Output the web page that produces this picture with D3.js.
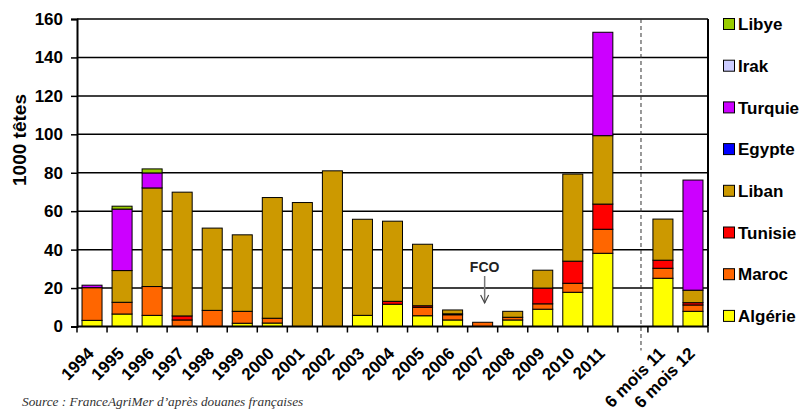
<!DOCTYPE html>
<html><head><meta charset="utf-8">
<script src="https://cdn.jsdelivr.net/npm/d3@7"></script>
<style>
body{margin:0;background:#fff;}
</style></head>
<body><svg id="c" width="806" height="412"></svg>
<script>
const categories = ["1994","1995","1996","1997","1998","1999","2000","2001","2002","2003","2004","2005","2006","2007","2008","2009","2010","2011","gap","6m11","6m12"];
const categoryLabels = ["1994","1995","1996","1997","1998","1999","2000","2001","2002","2003","2004","2005","2006","2007","2008","2009","2010","2011","","6 mois 11","6 mois 12"];
const seriesNames = ["Algérie","Maroc","Tunisie","Liban","Egypte","Turquie","Irak","Libye"];
const seriesColors = ["#FFFF00","#FF6600","#FF0000","#CC9900","#0000FF","#CC00FF","#CCCCFF","#99CC00"];
const algerie = [3.2,6.5,5.8,0,0,1.7,1.8,0,0,5.8,11.6,5.6,3.4,0,3.4,9.0,17.8,38.1,0,25.1,7.9];
const maroc   = [17,6.1,15,3.4,8.4,6.2,2.5,0,0,0,0,4.4,2.7,2.2,1.4,2.8,4.7,12.5,0,5.2,3.3];
const tunisie = [0,0,0,2.1,0,0,0,0,0,0,1.5,0.8,0.5,0,0,8.2,11.5,13.1,0,4.2,1.2];
const liban   = [0,16.5,51.3,64.4,42.8,39.8,62.8,64.5,81,50,41.7,32,2.0,0,3.1,9.3,45.3,35.6,0,21.4,6.5];
const egypte  = [0,0,0,0,0,0,0,0,0,0,0,0,0,0,0,0,0,0,0,0,0];
const turquie = [1.3,32,7.8,0,0,0,0,0,0,0,0,0,0,0,0,0,0,53.8,0,0,57.3];
const irak    = [0,0,0,0,0,0,0,0,0,0,0,0,0,0,0,0,0,0,0,0,0];
const libye   = [0,1.5,2.1,0,0,0,0,0,0,0,0,0,0,0,0,0,0,0,0,0,0];
const yTicks = [0,20,40,60,80,100,120,140,160];
const seriesValues = [algerie,maroc,tunisie,liban,egypte,turquie,irak,libye];

const SANS = "'Liberation Sans',Arial,sans-serif";
const svg = d3.select("#c");
const L=77, R=708, T=19, B=326.5;
const x = d3.scaleBand().domain(categories).range([L,R]).paddingInner(0.334).paddingOuter(0.167);
const y = d3.scaleLinear().domain([0,160]).range([B,T]);

const table = categories.map((c,i)=>{const o={cat:c}; seriesNames.forEach((s,j)=>o[s]=seriesValues[j][i]); return o;});
const stacked = d3.stack().keys(seriesNames)(table);

// gridlines
svg.append("g").selectAll("line").data(yTicks.filter(v=>v>0)).join("line")
  .attr("x1",L).attr("x2",R).attr("y1",d=>y(d)).attr("y2",d=>y(d))
  .attr("stroke","#000").attr("stroke-width",1.5);

// bars
svg.append("g").selectAll("g").data(stacked).join("g")
  .attr("fill",(d,i)=>seriesColors[i])
  .selectAll("rect").data(d=>d.filter(e=>e[1]-e[0]>0)).join("rect")
  .attr("x",d=>x(d.data.cat)).attr("width",x.bandwidth())
  .attr("y",d=>y(d[1])).attr("height",d=>y(d[0])-y(d[1]))
  .attr("stroke","#000").attr("stroke-width",1);

// dashed separator
const gapX = x("gap") + x.bandwidth()/2 + x.step()*0.27;
svg.append("line").attr("x1",gapX).attr("x2",gapX).attr("y1",T).attr("y2",B+24)
  .attr("stroke","#333").attr("stroke-width",1).attr("stroke-dasharray","4,3");

// frame
svg.append("line").attr("x1",R).attr("x2",R).attr("y1",T).attr("y2",B).attr("stroke","#000").attr("stroke-width",2);

// y axis
const ya = svg.append("g").attr("transform",`translate(${L},0)`)
  .call(d3.axisLeft(y).tickValues(yTicks).tickSize(6).tickPadding(8));
ya.select(".domain").attr("stroke","#000").attr("stroke-width",2);
ya.selectAll(".tick line").attr("stroke","#000").attr("stroke-width",1.5);
ya.selectAll(".tick text").attr("font-size",17).attr("font-weight","bold").attr("fill","#000")
  .style("font-family",SANS);

// x axis
svg.append("line").attr("x1",L).attr("x2",R).attr("y1",B).attr("y2",B).attr("stroke","#000").attr("stroke-width",2);
const bounds = categories.map(c=>x(c)-(x.step()-x.bandwidth())/2).concat([R]);
svg.append("g").selectAll("line").data(bounds).join("line")
  .attr("x1",d=>d).attr("x2",d=>d).attr("y1",B).attr("y2",B+6).attr("stroke","#000").attr("stroke-width",1.5);
svg.append("g").selectAll("text").data(categories).join("text")
  .attr("transform",(c)=>`translate(${x(c)+x.bandwidth()/2+3},${B+28}) rotate(-45)`)
  .attr("text-anchor","end")
  .style("font-family",SANS).attr("font-size",17).attr("font-weight","bold").attr("fill","#000")
  .text((c,i)=>categoryLabels[i]);

// y title
svg.append("text").attr("transform","translate(26,140) rotate(-90)")
  .attr("text-anchor","middle").style("font-family",SANS).attr("font-size",19).attr("font-weight","bold").attr("fill","#000").text("1000 têtes");

// FCO annotation
const fx = x("2007")+x.bandwidth()/2+2;
svg.append("text").attr("x",fx).attr("y",272).attr("text-anchor","middle").style("font-family",SANS)
  .attr("font-size",14).attr("font-weight","bold").attr("fill","#222").text("FCO");
svg.append("line").attr("x1",fx).attr("x2",fx).attr("y1",276).attr("y2",303).attr("stroke","#777").attr("stroke-width",1.5);
svg.append("path").attr("d",`M${fx-4},295 L${fx},303 L${fx+4},295`).attr("fill","none").attr("stroke","#444").attr("stroke-width",1.2);

// legend
const lg = svg.append("g");
const legendOrder = seriesNames.slice().reverse();
legendOrder.forEach((s,i)=>{
  const yy = 24 + i*41.7;
  const ci = seriesNames.indexOf(s);
  lg.append("rect").attr("x",723.5).attr("y",yy-5.5).attr("width",11).attr("height",11)
    .attr("fill",seriesColors[ci]).attr("stroke","#000").attr("stroke-width",1);
  lg.append("text").attr("x",738).attr("y",yy).attr("dy","0.36em").style("font-family",SANS)
    .attr("font-size",17).attr("font-weight","bold").attr("fill","#000").text(s);
});

// source
svg.append("text").attr("x",22).attr("y",406).style("font-family","'Liberation Serif','Times New Roman',serif")
  .attr("font-style","italic").attr("font-size",13.3).attr("fill","#333")
  .text("Source : FranceAgriMer d’après douanes françaises");
</script></body></html>
